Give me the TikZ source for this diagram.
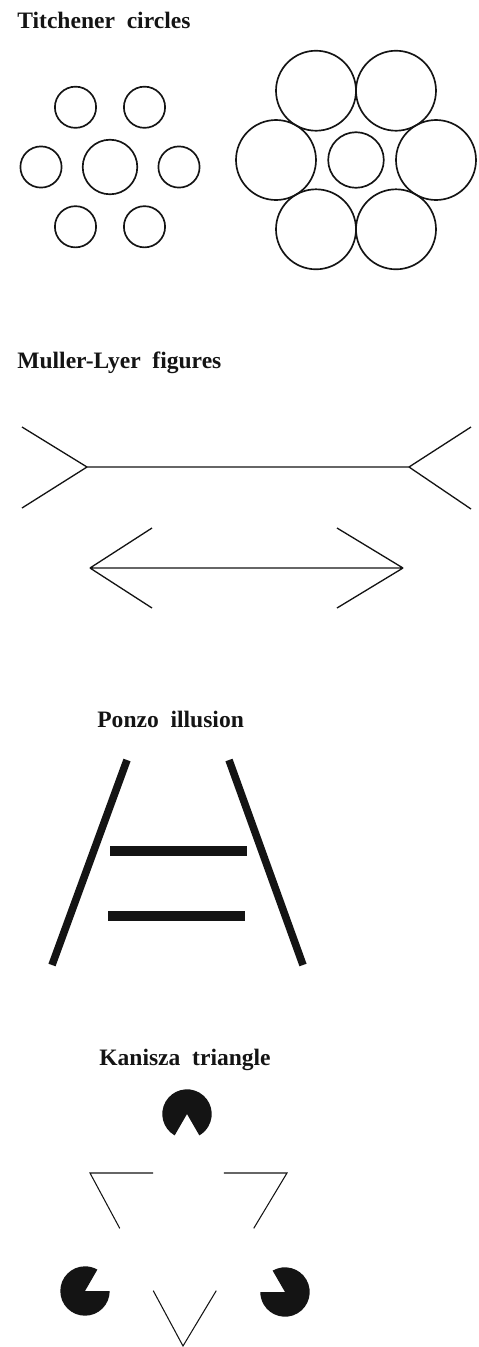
\documentclass[tikz,border=0pt]{standalone}
\usepackage{fontspec}
\setmainfont{Liberation Serif}
\usepackage{xcolor}
\usetikzlibrary{calc}
\definecolor{ink}{HTML}{141414}
\newcommand\wgap{\hspace{.5em}}

\begin{document}
\begin{tikzpicture}[x=.02cm,y=-.02cm,every node/.style={font=\fontsize{13.4}{16}\selectfont\bfseries,text=ink,inner sep=0pt,anchor=base west},ring/.style={ink,line width=.95pt},fin/.style={ink,line width=.75pt},rail/.style={ink,line width=4.3pt},rung/.style={ink,line width=5.5pt},edge/.style={ink,line width=.6pt},pac/.style={fill=ink}]
\useasboundingbox (0,0) rectangle (478,1347);
% Titchener circles
\node (ttitch) at (17,28){Titchener\wgap circles};
\coordinate (TL) at (110,167);\coordinate (TR) at (356,160);
\draw[ring] (TL) circle[radius=27.3];\foreach \a in {0,60,...,300}{\draw[ring] (TL)++(\a:69) circle[radius=20.6];}
\draw[ring] (TR) circle[radius=27.8];\foreach \a in {0,60,...,300}{\draw[ring] (TR)++(\a:80) circle[radius=40];}
% Muller-Lyer figures
\node (tmuller) at (17,368){Muller-Lyer\wgap figures};
\coordinate (A1) at (87,467);\coordinate (A2) at (409,467);\coordinate (B1) at (90,568);\coordinate (B2) at (403,568);
\draw[fin] (A1)--(A2) (A1)--++(-65,-40) (A1)--++(-65,41) (A2)--++(62,-40) (A2)--++(62,42);
\draw[fin] (B1)--(B2) (B1)--++(62,-40) (B1)--++(62,40) (B2)--++(-66,-40) (B2)--++(-66,40);
% Ponzo illusion
\node (tponzo) at (97,727){Ponzo\wgap illusion};
\coordinate (L1) at (127,760);\coordinate (L2) at (52,965);\coordinate (R1) at (229,760);\coordinate (R2) at (303,965);
\draw[rail] (L1)--(L2);\draw[rail] (R1)--(R2);
\draw[rung] (110,851)--(247,851);\draw[rung] (108,916)--(245,916);
% Kanisza triangle
\node (tkanisza) at (99,1065){Kanisza\wgap triangle};
\coordinate (K1) at (90,1173);\coordinate (K2) at (287,1173);\coordinate (K3) at (183,1346);\def\vis{.32}
\foreach \p/\q/\s in {K1/K2/K3,K2/K3/K1,K3/K1/K2}{\draw[edge] ($(\p)!\vis!(\q)$)--(\p)--($(\p)!\vis!(\s)$);}
\coordinate (P1) at (187,1114);\coordinate (P2) at (85,1291);\coordinate (P3) at (285,1292);\def\R{24.7}
\fill[pac] (P1)--++(120:\R) arc[start angle=120,end angle=420,radius=\R]--cycle;
\fill[pac] (P2)--++(0:\R) arc[start angle=0,end angle=300,radius=\R]--cycle;
\fill[pac] (P3)--++(240:\R) arc[start angle=240,end angle=540,radius=\R]--cycle;
\end{tikzpicture}
\end{document}
